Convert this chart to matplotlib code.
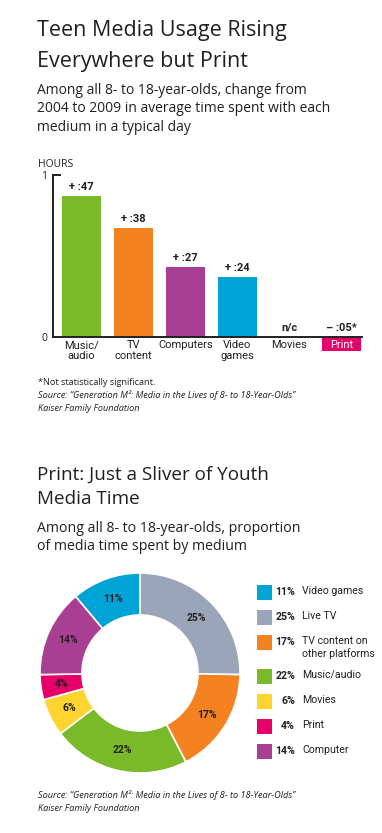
"""
teen media usage: bar chart of change 2004-2009 and donut of media time share
"""
import matplotlib.pyplot as plt
import matplotlib.patches as mpatches
import matplotlib.transforms as mtransforms
import numpy as np

W, H = 382, 833
DARK = "#231f20"
MAIN_FONT = ["Open Sans", "DejaVu Sans"]
NARROW_FONT = ["Roboto", "DejaVu Sans"]

# bar chart data (hours, change 2004 -> 2009)
bar_categories = ["Music/\naudio", "TV\ncontent", "Computers", "Video\ngames", "Movies", "Print"]
bar_heights = [0.87, 0.67, 0.43, 0.37, 0.0, 0.0]
bar_labels = ["+ :47", "+ :38", "+ :27", "+ :24", "n/c", "\u2013 :05*"]
bar_colors = ["#7ab929", "#f58220", "#a93f92", "#00a3d6", "none", "none"]

# donut data, clockwise from 12 o'clock
pie_names = ["Live TV", "TV content on\nother platforms", "Music/audio", "Movies",
             "Print", "Computer", "Video games"]
pie_values = [25, 17, 22, 6, 4, 14, 11]
pie_colors = ["#9ba5ba", "#f58220", "#7ab929", "#ffd42e", "#e6006a", "#a93f92", "#00a3d6"]

# legend order
legend_order = ["Video games", "Live TV", "TV content on\nother platforms", "Music/audio",
                "Movies", "Print", "Computer"]

title1 = ["Teen Media Usage Rising", "Everywhere but Print"]
subtitle1 = ["Among all 8- to 18-year-olds, change from",
             "2004 to 2009 in average time spent with each",
             "medium in a typical day"]
title2 = ["Print: Just a Sliver of Youth", "Media Time"]
subtitle2 = ["Among all 8- to 18-year-olds, proportion", "of media time spent by medium"]
source = ["Source: \u201cGeneration M\u00b2: Media in the Lives of 8- to 18-Year-Olds\u201d",
          "Kaiser Family Foundation"]


def fx(px):
    return px / W


def fy(py):
    return 1 - py / H


def text_lines(fig, lines, x, y0, step, **kw):
    """write lines one by one, y0 is the first baseline in pixels"""
    for k, line in enumerate(lines):
        fig.text(fx(x), fy(y0 + k * step), line, va="baseline", color=DARK, **kw)


def main():
    plt.rcParams["font.family"] = MAIN_FONT
    fig = plt.figure(figsize=(W / 100, H / 100), dpi=100)

    # ---- first chart headings
    text_lines(fig, title1, 37, 36, 31, fontsize=15.5)
    text_lines(fig, subtitle1, 37, 94, 18.5, fontsize=10)
    fig.text(fx(38), fy(167), "HOURS", fontsize=7.5, color=DARK, va="baseline")

    # ---- bar chart
    ax = fig.add_axes([fx(53), fy(337), fx(362) - fx(53), (337 - 175) / H])
    xpos = np.arange(len(bar_categories))
    width = 0.75
    ax.bar(xpos, bar_heights, width=width, color=bar_colors)
    ax.set_xlim(-0.55, 5.4)
    ax.set_ylim(0, 1)
    for sp in ["top", "right"]:
        ax.spines[sp].set_visible(False)
    for sp in ["left", "bottom"]:
        ax.spines[sp].set_linewidth(1.4)
        ax.spines[sp].set_color(DARK)
    ax.set_yticks([0, 1])
    ax.set_yticklabels(["0", "1"], fontsize=7.5, color=DARK)
    ax.tick_params(axis="y", direction="in", length=6, width=1.4, colors=DARK, pad=4)
    ax.yaxis.get_major_ticks()[0].tick1line.set_visible(False)
    ax.set_xticks([])
    for x, h, lab in zip(xpos, bar_heights, bar_labels):
        ax.annotate(lab, (x, h), xytext=(0, 3), textcoords="offset points",
                    fontsize=8, fontweight="bold", color=DARK, ha="center", va="bottom",
                    family=NARROW_FONT)
    trans = mtransforms.blended_transform_factory(ax.transData, ax.transAxes)
    for x, cat in zip(xpos, bar_categories):
        color = DARK
        if cat == "Print":
            # magenta tag behind the print label
            ax.add_patch(mpatches.Rectangle((x - width / 2, -0.087), width, 0.081,
                                            transform=trans, fc="#e6006a", ec="none",
                                            clip_on=False))
            color = "white"
        ax.text(x, -0.02, cat, fontsize=8, color=color, ha="center", va="top",
                family=NARROW_FONT, linespacing=1.15, transform=trans)

    # footnotes
    fig.text(fx(38), fy(385), "*Not statistically significant.", fontsize=6.6,
             color=DARK, va="baseline")
    text_lines(fig, source, 38, 398, 13, fontsize=6.6, style="italic")

    # ---- second chart headings
    text_lines(fig, title2, 37, 480, 24, fontsize=13.6)
    text_lines(fig, subtitle2, 37, 532, 18.5, fontsize=10.2)

    # ---- donut
    pax = fig.add_axes([fx(40), fy(773), 200 / W, 200 / H])
    pax.pie(
        pie_values, colors=pie_colors, startangle=90, counterclock=False,
        radius=1.0, autopct="%d%%", pctdistance=0.79,
        wedgeprops=dict(width=0.42, edgecolor="white", linewidth=1.2),
        textprops=dict(fontsize=7.5, fontweight="bold", color=DARK, family=NARROW_FONT),
    )
    pax.set_xlim(-1, 1)
    pax.set_ylim(-1, 1)
    pax.set_aspect("equal")

    # ---- legend
    y = 592
    for name in legend_order:
        i = pie_names.index(name)
        fig.patches.append(mpatches.Rectangle(
            (fx(257), fy(y + 7.5)), 15 / W, 15 / H, transform=fig.transFigure,
            fc=pie_colors[i], ec="none"))
        fig.text(fx(295), fy(y), f"{pie_values[i]}%", fontsize=7.6, fontweight="bold",
                 color=DARK, ha="right", va="center", family=NARROW_FONT)
        fig.text(fx(302), fy(y - 6), name, fontsize=7.6, color=DARK, ha="left",
                 va="top", family=NARROW_FONT, linespacing=1.2)
        y += 25 + 9 * name.count("\n")

    text_lines(fig, source, 38, 798, 13, fontsize=6.6, style="italic")

    fig.savefig("out.png", dpi=100)


if __name__ == "__main__":
    main()
